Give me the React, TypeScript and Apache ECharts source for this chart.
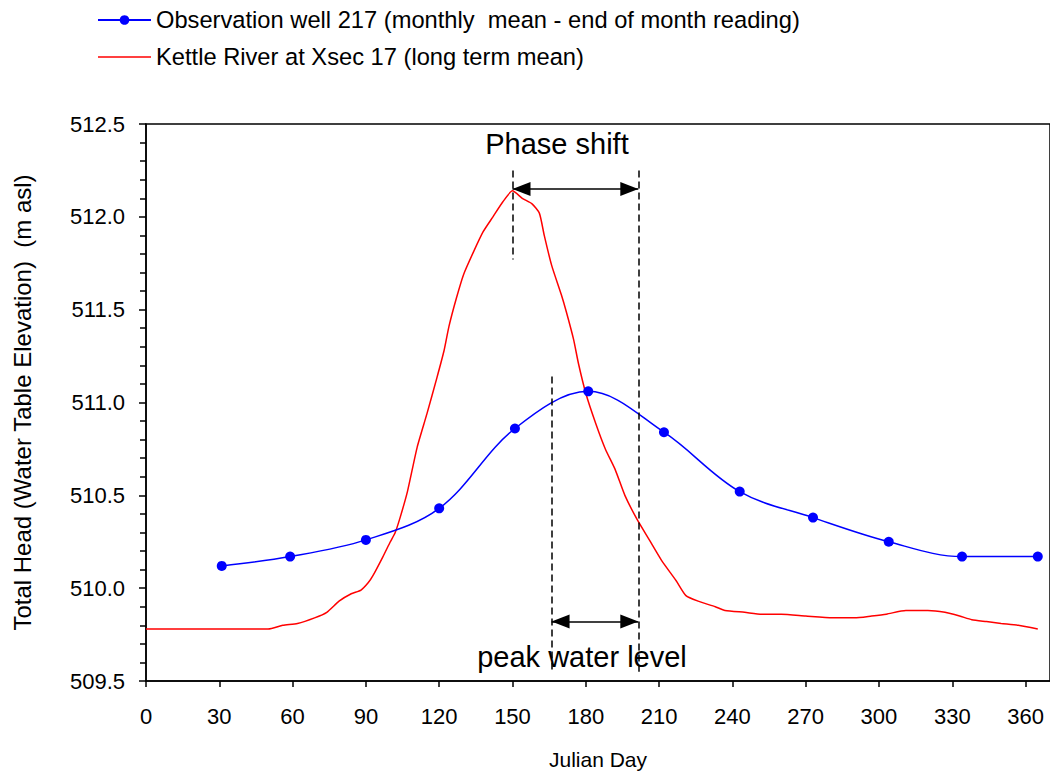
import React, { useEffect, useRef } from "react";
import * as echarts from "echarts";

// Observation well 217: end-of-month readings (Julian day, m asl)
const wellDays = [31, 59, 90, 120, 151, 181, 212, 243, 273, 304, 334, 365];
const wellLevel = [510.12, 510.17, 510.26, 510.43, 510.86, 511.06, 510.84, 510.52, 510.38, 510.25, 510.17, 510.17];

// Kettle River at Xsec 17, long term mean
const riverDays = [
  0, 10, 20, 30, 40, 50, 56, 62, 69, 74, 79, 84, 88, 91, 93, 97, 100, 102, 104, 107,
  111, 115, 119, 122, 124, 127, 130, 134, 138, 142, 146, 150, 154, 158, 161, 163, 166, 170, 172, 175,
  177, 180, 184, 188, 192, 196, 201, 206, 211, 217, 221, 226, 233, 237, 245, 252, 260, 270, 281, 290,
  297, 303, 311, 320, 327, 333, 338, 344, 350, 357, 365,
];
const riverLevel = [
  509.78, 509.78, 509.78, 509.78, 509.78, 509.78, 509.80, 509.81, 509.84, 509.87, 509.93, 509.97, 509.99, 510.03, 510.07, 510.17, 510.25, 510.30, 510.38, 510.52,
  510.76, 510.94, 511.13, 511.28, 511.41, 511.56, 511.69, 511.81, 511.92, 512.00, 512.08, 512.14, 512.10, 512.07, 512.02, 511.90, 511.74, 511.58, 511.49, 511.34,
  511.21, 511.05, 510.89, 510.75, 510.64, 510.50, 510.37, 510.26, 510.15, 510.04, 509.96, 509.93, 509.90, 509.88, 509.87, 509.86, 509.86, 509.85, 509.84, 509.84,
  509.85, 509.86, 509.88, 509.88, 509.87, 509.85, 509.83, 509.82, 509.81, 509.80, 509.78,
];

const xTicks = [0, 30, 60, 90, 120, 150, 180, 210, 240, 270, 300, 330, 360];
const yTicks = [509.5, 510.0, 510.5, 511.0, 511.5, 512.0, 512.5];

const wellName = "Observation well 217 (monthly  mean - end of month reading)";
const riverName = "Kettle River at Xsec 17 (long term mean)";

// Annotation positions (Julian day, m asl)
const riverPeakDay = 150;
const wellPeakDay = 166;
const lagEndDay = 201.5;
const phaseArrowLevel = 512.15;
const peakArrowLevel = 509.82;
const dashTop = 512.25;
const riverPeakDashBottom = 511.77;
const wellPeakDashTop = 511.14;
const dashBottom = 509.55;

const FONT = "'Liberation Sans', Arial, sans-serif";

export default function App() {
  const ref = useRef<HTMLDivElement>(null);
  useEffect(() => {
    if (!ref.current) return;
    const chart = echarts.init(ref.current, null, { renderer: "svg" });
    const dashed = { color: "#000", width: 1.5, type: [7, 4] as any };
    const solid = { color: "#000", width: 1.5, type: "solid" as any };
    const arrowEnd = { symbol: "triangle", symbolSize: [14, 18], symbolOffset: [0, 9] };
    chart.setOption({
      animation: false,
      textStyle: { fontFamily: FONT, color: "#000" },
      legend: {
        orient: "vertical",
        left: 97,
        top: 7,
        padding: 0,
        itemWidth: 53,
        itemHeight: 12,
        itemGap: 11,
        data: [
          { name: wellName },
          { name: riverName, icon: "path://M0,0 L106,0 L106,3 L0,3 Z" },
        ],
        textStyle: { fontFamily: FONT, fontSize: 23.7, color: "#000", lineHeight: 26 },
      },
      grid: {
        left: 146,
        top: 124,
        width: 905,
        height: 561,
        show: true,
        borderColor: "#000",
        borderWidth: 1.5,
        backgroundColor: "transparent",
      },
      xAxis: {
        type: "value",
        min: 0,
        max: 370,
        interval: 30,
        name: "Julian Day",
        nameLocation: "middle",
        nameGap: 68,
        nameTextStyle: { fontFamily: FONT, fontSize: 21, color: "#000" },
        axisLine: { show: true, lineStyle: { color: "#000", width: 1.5 } },
        axisTick: { show: true, length: 6, lineStyle: { color: "#000", width: 1.5 } },
        axisLabel: {
          fontFamily: FONT,
          fontSize: 22,
          color: "#000",
          margin: 24,
          showMaxLabel: false,
          formatter: (v: number) => (xTicks.includes(v) ? String(v) : ""),
        },
        splitLine: { show: false },
      },
      yAxis: {
        type: "value",
        min: yTicks[0],
        max: yTicks[yTicks.length - 1],
        interval: 0.5,
        name: "Total Head (Water Table Elevation)  (m asl)",
        nameLocation: "middle",
        nameGap: 112,
        nameTextStyle: { fontFamily: FONT, fontSize: 24, color: "#000" },
        axisLine: { show: true, lineStyle: { color: "#000", width: 1.5 } },
        axisTick: { show: true, length: 7, lineStyle: { color: "#000", width: 1.5 } },
        minorTick: { show: true, splitNumber: 5, length: 6, lineStyle: { color: "#000", width: 1.5 } },
        axisLabel: {
          fontFamily: FONT,
          fontSize: 22,
          color: "#000",
          margin: 21,
          formatter: (v: number) => v.toFixed(1),
        },
        splitLine: { show: false },
      },
      series: [
        {
          name: riverName,
          type: "line",
          data: riverDays.map((d, i) => [d, riverLevel[i]]),
          symbol: "none",
          smooth: 0.2,
          lineStyle: { color: "#ff0000", width: 1.5 },
          itemStyle: { color: "#ff0000" },
          z: 2,
        },
        {
          name: wellName,
          type: "line",
          data: wellDays.map((d, i) => [d, wellLevel[i]]),
          symbol: "circle",
          symbolSize: 10,
          smooth: 0.35,
          lineStyle: { color: "#0000ff", width: 1.5 },
          itemStyle: { color: "#0000ff" },
          z: 3,
        },
        {
          name: "annotations",
          type: "line",
          data: [],
          silent: true,
          z: 4,
          markLine: {
            silent: true,
            animation: false,
            label: { show: false },
            symbol: "none",
            emphasis: { disabled: true },
            data: [
              [
                { coord: [riverPeakDay, dashTop], lineStyle: dashed },
                { coord: [riverPeakDay, riverPeakDashBottom] },
              ],
              [
                { coord: [lagEndDay, dashTop], lineStyle: dashed },
                { coord: [lagEndDay, dashBottom] },
              ],
              [
                { coord: [wellPeakDay, wellPeakDashTop], lineStyle: dashed },
                { coord: [wellPeakDay, dashBottom] },
              ],
              [
                { coord: [riverPeakDay, phaseArrowLevel], lineStyle: solid, ...arrowEnd },
                { coord: [lagEndDay, phaseArrowLevel], ...arrowEnd },
              ],
              [
                { coord: [wellPeakDay, peakArrowLevel], lineStyle: solid, ...arrowEnd },
                { coord: [lagEndDay, peakArrowLevel], ...arrowEnd },
              ],
            ],
          },
        },
      ],
      graphic: [
        {
          type: "text",
          x: 557,
          y: 144,
          style: {
            text: "Phase shift",
            fontFamily: FONT,
            fontSize: 29,
            fill: "#000",
            align: "center",
            verticalAlign: "middle",
          },
          z: 10,
        },
        {
          type: "text",
          x: 582,
          y: 657,
          style: {
            text: "peak water level",
            fontFamily: FONT,
            fontSize: 29,
            fill: "#000",
            align: "center",
            verticalAlign: "middle",
          },
          z: 10,
        },
      ],
    });
    return () => chart.dispose();
  }, []);
  return (
    <div
      ref={ref}
      style={{ position: "absolute", left: 0, top: 0, width: 1050, height: 775, background: "#fff" }}
    />
  );
}
